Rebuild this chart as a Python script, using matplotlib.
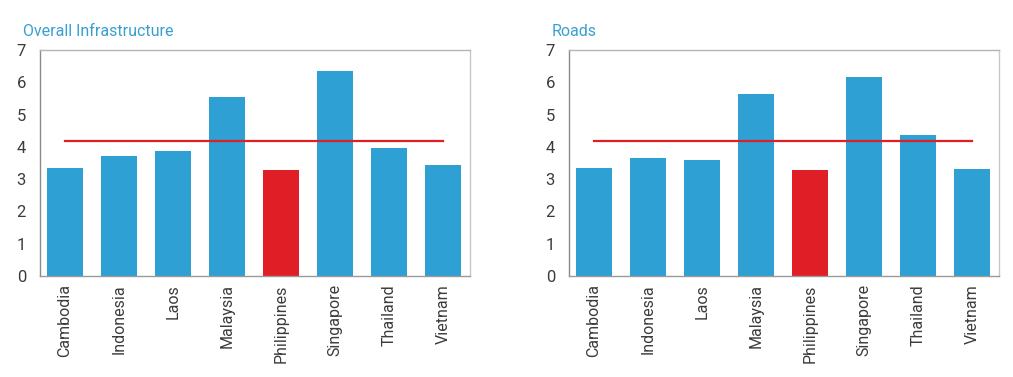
import matplotlib
matplotlib.use("Agg")
import matplotlib.pyplot as plt

countries = ["Cambodia", "Indonesia", "Laos", "Malaysia", "Philippines",
             "Singapore", "Thailand", "Vietnam"]
overall = [3.33, 3.73, 3.87, 5.53, 3.27, 6.34, 3.96, 3.44]
roads = [3.33, 3.67, 3.58, 5.63, 3.27, 6.16, 4.37, 3.32]
overall_avg = 4.18
roads_avg = 4.18
titles = ["Overall Infrastructure", "Roads"]
yticks = [0, 1, 2, 3, 4, 5, 6, 7]

BLUE = "#2ea0d3"
RED = "#e01e25"
TITLE_BLUE = "#3a9fd0"
TEXT = "#3c3c3c"

plt.rcParams['font.family'] = ['Roboto', 'DejaVu Sans']

fig = plt.figure(figsize=(10.13, 3.77), dpi=100)
W, H = 1013, 377
axes_px = [(40, 50, 470, 276), (569, 50, 999, 276)]

for (x0, y0, x1, y1), vals, avg, title in zip(
        axes_px, [overall, roads], [overall_avg, roads_avg], titles):
    ax = fig.add_axes([x0 / W, 1 - y1 / H, (x1 - x0) / W, (y1 - y0) / H])
    colors = [RED if c == "Philippines" else BLUE for c in countries]
    xs = list(range(len(countries)))
    ax.bar(xs, vals, width=0.66, color=colors, zorder=2)
    ax.plot([xs[0], xs[-1]], [avg, avg], color=RED, lw=1.6, zorder=3)
    ax.set_xlim(-0.46, 7.5)
    ax.set_ylim(0, 7)
    ax.set_yticks(yticks)
    ax.set_xticks(xs)
    ax.set_xticklabels(countries, rotation=90, fontsize=11.5, color=TEXT)
    for lab in ax.get_yticklabels():
        lab.set_fontsize(12)
        lab.set_color(TEXT)
    ax.tick_params(axis="both", length=0)
    ax.tick_params(axis="y", pad=10)
    ax.tick_params(axis="x", pad=6)
    ax.spines["left"].set_color("#8a8a8a")
    ax.spines["bottom"].set_color("#9a9a9a")
    ax.spines["top"].set_color("#b5b5b5")
    ax.spines["right"].set_color("#c8c8c8")
    for s in ax.spines.values():
        s.set_linewidth(1.0)
    fig.text((x0 - 17) / W, 1 - 32 / H, title, color=TITLE_BLUE, fontsize=11.5,
             va="center", ha="left")

fig.savefig("out.png", dpi=100)
